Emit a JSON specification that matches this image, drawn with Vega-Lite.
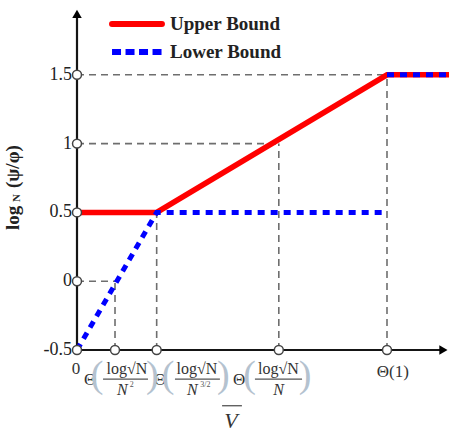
{
  "$schema": "https://vega.github.io/schema/vega-lite/v6.json",
  "width": 372,
  "height": 344,
  "autosize": "none",
  "padding": {"left": 77, "top": 6, "right": 1, "bottom": 82},
  "background": "white",
  "config": {"view": {"stroke": null}, "font": "Liberation Serif"},
  "datasets": {
    "guides": [
      {"x": 0, "x2": 1.0, "y": 1.5, "y2": 1.5},
      {"x": 0, "x2": 0.651, "y": 1, "y2": 1},
      {"x": 0, "x2": 0.1226, "y": 0, "y2": 0},
      {"x": 0.1226, "x2": 0.1226, "y": -0.5, "y2": 0},
      {"x": 0.257, "x2": 0.257, "y": -0.5, "y2": 0.5},
      {"x": 0.651, "x2": 0.651, "y": -0.5, "y2": 1},
      {"x": 1.0, "x2": 1.0, "y": -0.5, "y2": 1.5}
    ],
    "axes": [
      {"x": 0, "x2": 0, "y": -0.5, "y2": 1.94},
      {"x": 0, "x2": 1.177, "y": -0.5, "y2": -0.5}
    ],
    "arrows": [
      {"x": 0, "y": 1.943, "shape": "triangle-up"},
      {"x": 1.182, "y": -0.5, "shape": "triangle-right"}
    ],
    "curves": [
      {"series": "Upper Bound", "seg": "u", "x": 0, "y": 0.5},
      {"series": "Upper Bound", "seg": "u", "x": 0.257, "y": 0.5},
      {"series": "Upper Bound", "seg": "u", "x": 1.0, "y": 1.5},
      {"series": "Upper Bound", "seg": "u", "x": 1.2, "y": 1.5},
      {"series": "Lower Bound", "seg": "a", "x": 0, "y": -0.5},
      {"series": "Lower Bound", "seg": "a", "x": 0.257, "y": 0.5},
      {"series": "Lower Bound", "seg": "a", "x": 1.0, "y": 0.5},
      {"series": "Lower Bound", "seg": "b", "x": 1.0, "y": 1.5},
      {"series": "Lower Bound", "seg": "b", "x": 1.2, "y": 1.5}
    ],
    "legend": [
      {"series": "Upper Bound", "x": 0.113, "x2": 0.274, "y": 1.869, "tx": 0.3},
      {"series": "Lower Bound", "x": 0.113, "x2": 0.274, "y": 1.666, "tx": 0.3}
    ],
    "ticks": [
      {"x": 0, "y": 1.5}, {"x": 0, "y": 1}, {"x": 0, "y": 0.5}, {"x": 0, "y": 0}, {"x": 0, "y": -0.5},
      {"x": 0.1226, "y": -0.5}, {"x": 0.257, "y": -0.5}, {"x": 0.651, "y": -0.5}, {"x": 1.0, "y": -0.5}
    ],
    "ylabels": [
      {"x": -0.016, "y": 1.5, "t": "1.5"},
      {"x": -0.016, "y": 1, "t": "1"},
      {"x": -0.016, "y": 0.5, "t": "0.5"},
      {"x": -0.016, "y": 0, "t": "0"},
      {"x": -0.016, "y": -0.5, "t": "-0.5"}
    ],
    "thetas": [
      {"x": 0.042, "y": -0.718, "t": "Θ"},
      {"x": 0.268, "y": -0.718, "t": "Θ"},
      {"x": 0.523, "y": -0.718, "t": "Θ"},
      {"x": 1.019, "y": -0.66, "t": "Θ(1)"},
      {"x": -0.003, "y": -0.64, "t": "0"}
    ],
    "parens": [
      {"x": 0.065, "y": -0.69, "t": "("},
      {"x": 0.243, "y": -0.69, "t": ")"},
      {"x": 0.294, "y": -0.69, "t": "("},
      {"x": 0.472, "y": -0.69, "t": ")"},
      {"x": 0.557, "y": -0.69, "t": "("},
      {"x": 0.736, "y": -0.69, "t": ")"}
    ],
    "nums": [
      {"x": 0.161, "y": -0.638, "t": "log√N"},
      {"x": 0.387, "y": -0.638, "t": "log√N"},
      {"x": 0.65, "y": -0.638, "t": "log√N"}
    ],
    "dens": [
      {"x": 0.146, "y": -0.791, "t": "N"},
      {"x": 0.372, "y": -0.791, "t": "N"},
      {"x": 0.65, "y": -0.791, "t": "N"}
    ],
    "sups": [
      {"x": 0.177, "y": -0.752, "t": "2"},
      {"x": 0.414, "y": -0.752, "t": "3/2"}
    ],
    "bars": [
      {"x": 0.084, "x2": 0.229, "y": -0.711},
      {"x": 0.316, "x2": 0.461, "y": -0.711},
      {"x": 0.574, "x2": 0.726, "y": -0.711},
      {"x": 0.468, "x2": 0.532, "y": -0.905}
    ],
    "vlabel": [{"x": 0.497, "y": -1.015, "t": "V"}],
    "ytitle": [
      {"x": -0.206, "y": 0.372, "t": "log", "part": "main"},
      {"x": -0.192, "y": 0.576, "t": "N", "part": "sub"},
      {"x": -0.206, "y": 0.677, "t": "(ψ/φ)", "part": "main"}
    ]
  },
  "encoding": {
    "x": {"field": "x", "type": "quantitative", "scale": {"domain": [0, 1.2], "nice": false, "zero": false}, "axis": null},
    "y": {"field": "y", "type": "quantitative", "scale": {"domain": [-0.5, 2.0], "nice": false, "zero": false}, "axis": null}
  },
  "layer": [
    {
      "data": {"name": "guides"},
      "mark": {"type": "rule", "color": "#6e6e6e", "strokeWidth": 1.6, "strokeDash": [7, 5]},
      "encoding": {"x2": {"field": "x2"}, "y2": {"field": "y2"}}
    },
    {
      "data": {"name": "axes"},
      "mark": {"type": "rule", "color": "#151515", "strokeWidth": 2.2},
      "encoding": {"x2": {"field": "x2"}, "y2": {"field": "y2"}}
    },
    {
      "data": {"name": "arrows"},
      "mark": {"type": "point", "filled": true, "color": "#000000", "size": 90, "opacity": 1},
      "encoding": {"shape": {"field": "shape", "type": "nominal", "scale": null}}
    },
    {
      "data": {"name": "curves"},
      "transform": [{"filter": "datum.series === 'Upper Bound'"}],
      "mark": {"type": "line", "strokeWidth": 5.5, "strokeCap": "butt"},
      "encoding": {
        "color": {"field": "series", "type": "nominal", "scale": {"domain": ["Upper Bound", "Lower Bound"], "range": ["#ff0000", "#0000ff"]}, "legend": null},
        "detail": {"field": "seg"}
      }
    },
    {
      "data": {"name": "curves"},
      "transform": [{"filter": "datum.series === 'Lower Bound'"}],
      "mark": {"type": "line", "strokeWidth": 5, "strokeDash": [7, 6], "strokeCap": "butt"},
      "encoding": {
        "color": {"field": "series", "type": "nominal", "legend": null},
        "detail": {"field": "seg"}
      }
    },
    {
      "data": {"name": "legend"},
      "transform": [{"filter": "datum.series === 'Upper Bound'"}],
      "mark": {"type": "rule", "strokeWidth": 6, "strokeCap": "round"},
      "encoding": {"x2": {"field": "x2"}, "color": {"field": "series", "type": "nominal", "legend": null}}
    },
    {
      "data": {"name": "legend"},
      "transform": [{"filter": "datum.series === 'Lower Bound'"}],
      "mark": {"type": "rule", "strokeWidth": 6, "strokeDash": [9, 4.5]},
      "encoding": {"x2": {"field": "x2"}, "color": {"field": "series", "type": "nominal", "legend": null}}
    },
    {
      "data": {"name": "legend"},
      "mark": {"type": "text", "align": "left", "baseline": "middle", "fontSize": 19, "fontWeight": "bold", "color": "#222222"},
      "encoding": {"x": {"field": "tx", "type": "quantitative"}, "text": {"field": "series"}}
    },
    {
      "data": {"name": "ticks"},
      "mark": {"type": "point", "shape": "circle", "filled": true, "fill": "#ffffff", "stroke": "#444444", "strokeWidth": 1.5, "size": 80, "opacity": 1}
    },
    {
      "data": {"name": "ylabels"},
      "mark": {"type": "text", "align": "right", "baseline": "middle", "fontSize": 18, "color": "#222222"},
      "encoding": {"text": {"field": "t"}}
    },
    {
      "data": {"name": "thetas"},
      "mark": {"type": "text", "align": "center", "baseline": "middle", "fontSize": 17, "color": "#333333"},
      "encoding": {"text": {"field": "t"}}
    },
    {
      "data": {"name": "parens"},
      "mark": {"type": "text", "align": "center", "baseline": "middle", "fontSize": 38, "color": "#b4c2cf"},
      "encoding": {"text": {"field": "t"}}
    },
    {
      "data": {"name": "nums"},
      "mark": {"type": "text", "align": "center", "baseline": "middle", "fontSize": 16, "color": "#333333"},
      "encoding": {"text": {"field": "t"}}
    },
    {
      "data": {"name": "dens"},
      "mark": {"type": "text", "align": "center", "baseline": "middle", "fontSize": 16, "fontStyle": "italic", "color": "#333333"},
      "encoding": {"text": {"field": "t"}}
    },
    {
      "data": {"name": "sups"},
      "mark": {"type": "text", "align": "center", "baseline": "middle", "fontSize": 8, "color": "#555555"},
      "encoding": {"text": {"field": "t"}}
    },
    {
      "data": {"name": "bars"},
      "mark": {"type": "rule", "color": "#555555", "strokeWidth": 1.3},
      "encoding": {"x2": {"field": "x2"}}
    },
    {
      "data": {"name": "vlabel"},
      "mark": {"type": "text", "align": "center", "baseline": "middle", "fontSize": 22, "fontStyle": "italic", "color": "#333333"},
      "encoding": {"text": {"field": "t"}}
    },
    {
      "data": {"name": "ytitle"},
      "transform": [{"filter": "datum.part === 'main'"}],
      "mark": {"type": "text", "align": "left", "baseline": "middle", "angle": 270, "fontSize": 19, "fontWeight": "bold", "color": "#222222"},
      "encoding": {"text": {"field": "t"}}
    },
    {
      "data": {"name": "ytitle"},
      "transform": [{"filter": "datum.part === 'sub'"}],
      "mark": {"type": "text", "align": "left", "baseline": "middle", "angle": 270, "fontSize": 11, "fontWeight": "bold", "color": "#222222"},
      "encoding": {"text": {"field": "t"}}
    }
  ]
}
